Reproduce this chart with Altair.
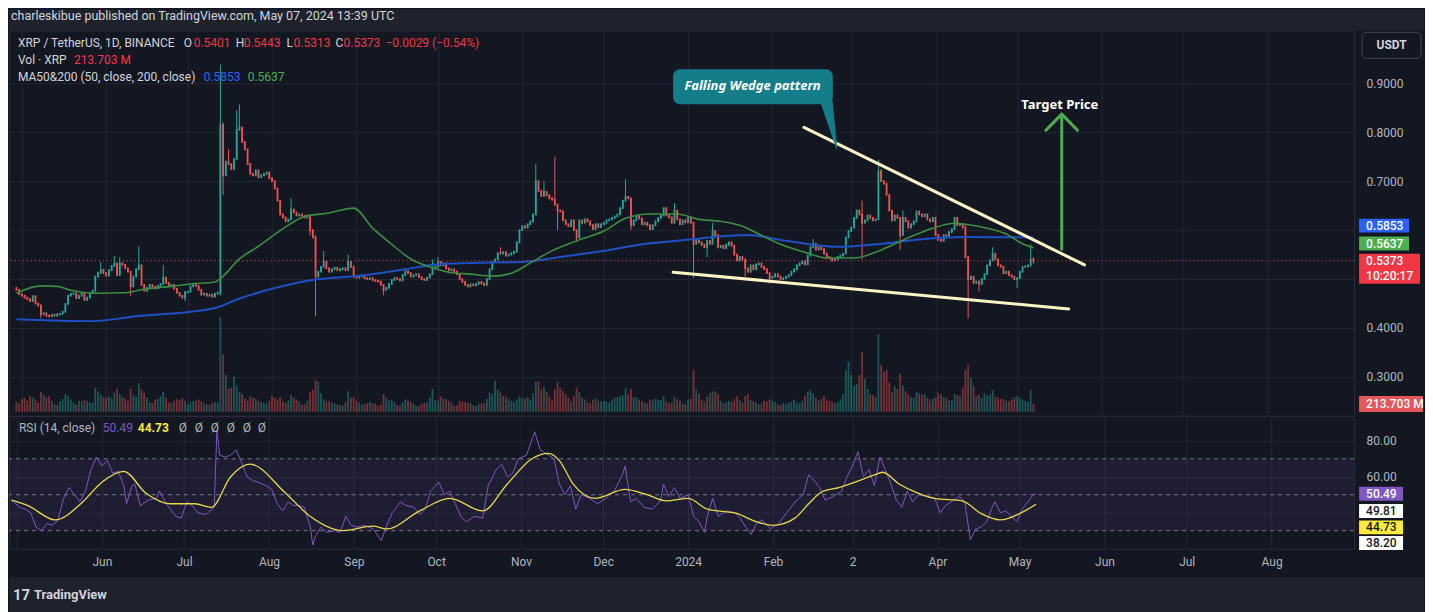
import altair as alt
import pandas as pd

# ---------------- data ----------------
START_DATE = "2023-04-29"
FIRST_OPEN = 0.482

close_2023_04 = [0.478, 0.469]
close_2023_05 = [0.466, 0.462, 0.459, 0.455, 0.465, 0.450, 0.446, 0.428, 0.430, 0.425,
                 0.424, 0.427, 0.425, 0.428, 0.429, 0.433, 0.449, 0.466, 0.470, 0.471,
                 0.461, 0.466, 0.470, 0.457, 0.462, 0.471, 0.476, 0.505, 0.513, 0.519, 0.512]
close_2023_06 = [0.507, 0.518, 0.527, 0.532, 0.508, 0.532, 0.529, 0.522, 0.515, 0.485,
                 0.505, 0.520, 0.528, 0.488, 0.476, 0.482, 0.488, 0.484, 0.481, 0.486,
                 0.490, 0.503, 0.492, 0.486, 0.488, 0.480, 0.472, 0.466, 0.462, 0.473]
close_2023_07 = [0.474, 0.485, 0.488, 0.486, 0.478, 0.468, 0.470, 0.466, 0.468, 0.464,
                 0.470, 0.472, 0.815, 0.712, 0.740, 0.735, 0.725, 0.745, 0.805, 0.810,
                 0.780, 0.765, 0.735, 0.715, 0.712, 0.722, 0.708, 0.712, 0.715, 0.718, 0.706]
close_2023_08 = [0.700, 0.685, 0.660, 0.632, 0.626, 0.618, 0.622, 0.642, 0.636, 0.630,
                 0.632, 0.629, 0.626, 0.630, 0.600, 0.585, 0.505, 0.515, 0.525, 0.535,
                 0.522, 0.515, 0.520, 0.523, 0.518, 0.520, 0.522, 0.518, 0.535, 0.525, 0.505]
close_2023_09 = [0.503, 0.505, 0.507, 0.502, 0.500, 0.502, 0.498, 0.496, 0.495, 0.488,
                 0.478, 0.482, 0.490, 0.498, 0.502, 0.500, 0.497, 0.508, 0.516, 0.512,
                 0.505, 0.508, 0.510, 0.504, 0.500, 0.498, 0.503, 0.510, 0.522, 0.525]
close_2023_10 = [0.535, 0.528, 0.532, 0.522, 0.518, 0.520, 0.515, 0.510, 0.500, 0.494,
                 0.488, 0.485, 0.489, 0.487, 0.490, 0.494, 0.491, 0.488, 0.500, 0.520,
                 0.535, 0.540, 0.553, 0.552, 0.555, 0.548, 0.550, 0.553, 0.556, 0.575, 0.600]
close_2023_11 = [0.608, 0.605, 0.612, 0.618, 0.632, 0.700, 0.680, 0.670, 0.678, 0.671,
                 0.665, 0.662, 0.652, 0.640, 0.638, 0.620, 0.612, 0.608, 0.620, 0.600,
                 0.585, 0.620, 0.615, 0.622, 0.618, 0.610, 0.602, 0.612, 0.606, 0.612]
close_2023_12 = [0.615, 0.620, 0.622, 0.625, 0.628, 0.632, 0.645, 0.660, 0.668, 0.665,
                 0.610, 0.620, 0.628, 0.624, 0.612, 0.615, 0.610, 0.602, 0.610, 0.618,
                 0.625, 0.630, 0.645, 0.630, 0.626, 0.615, 0.640, 0.622, 0.612, 0.620, 0.616]
close_2024_01 = [0.625, 0.615, 0.572, 0.580, 0.575, 0.570, 0.565, 0.578, 0.572, 0.598,
                 0.590, 0.565, 0.568, 0.563, 0.570, 0.575, 0.568, 0.550, 0.538, 0.545,
                 0.540, 0.522, 0.515, 0.528, 0.520, 0.530, 0.532, 0.525, 0.520, 0.512, 0.502]
close_2024_02 = [0.505, 0.510, 0.505, 0.500, 0.502, 0.505, 0.508, 0.515, 0.520, 0.528,
                 0.532, 0.536, 0.530, 0.548, 0.565, 0.572, 0.560, 0.565, 0.561, 0.552,
                 0.545, 0.542, 0.538, 0.540, 0.545, 0.548, 0.552, 0.585, 0.598]
close_2024_03 = [0.605, 0.625, 0.640, 0.632, 0.615, 0.620, 0.630, 0.625, 0.620, 0.622,
                 0.720, 0.700, 0.695, 0.672, 0.640, 0.620, 0.630, 0.625, 0.590, 0.625,
                 0.618, 0.605, 0.612, 0.618, 0.638, 0.632, 0.628, 0.632, 0.622, 0.618, 0.625]
close_2024_04 = [0.590, 0.580, 0.578, 0.590, 0.588, 0.596, 0.602, 0.625, 0.610, 0.612,
                 0.605, 0.545, 0.500, 0.505, 0.492, 0.495, 0.490, 0.500, 0.510, 0.528,
                 0.538, 0.552, 0.540, 0.528, 0.525, 0.512, 0.515, 0.508, 0.505, 0.500]
close_2024_05 = [0.502, 0.515, 0.525, 0.526, 0.528, 0.5401, 0.5373]

# volume, millions of XRP
vol_2023_04 = [270, 220]
vol_2023_05 = [350, 380, 300, 420, 390, 330, 250, 540, 460, 400, 420, 300, 210, 190, 280, 350,
               480, 420, 330, 250, 200, 300, 280, 320, 300, 260, 240, 650, 560, 480, 400]
vol_2023_06 = [380, 420, 360, 520, 620, 480, 400, 360, 300, 630, 450, 410, 780, 600, 520, 380,
               260, 240, 330, 360, 420, 540, 380, 260, 230, 300, 350, 320, 380, 300]
vol_2023_07 = [210, 260, 290, 300, 330, 280, 230, 200, 190, 240, 260, 250, 2560, 1560, 1000, 620,
               650, 950, 700, 540, 480, 360, 300, 420, 380, 350, 300, 260, 240, 220, 300]
vol_2023_08 = [420, 380, 330, 400, 280, 230, 300, 450, 380, 330, 280, 200, 210, 300, 540, 600,
               870, 810, 500, 330, 280, 300, 250, 230, 200, 190, 170, 260, 560, 380, 400]
vol_2023_09 = [300, 260, 200, 210, 240, 260, 230, 220, 160, 190, 480, 380, 300, 320, 260, 180,
               170, 260, 330, 300, 270, 230, 170, 160, 220, 240, 260, 380, 620, 320]
vol_2023_10 = [300, 420, 360, 340, 300, 260, 170, 180, 300, 270, 260, 240, 230, 180, 160, 220,
               230, 240, 350, 520, 480, 840, 600, 520, 430, 400, 350, 300, 270, 330, 420]
vol_2023_11 = [380, 360, 400, 330, 500, 810, 820, 600, 680, 540, 420, 300, 600, 810, 650, 560,
               480, 380, 280, 420, 650, 540, 380, 330, 260, 230, 330, 360, 300, 280]
vol_2023_12 = [300, 270, 260, 330, 380, 400, 420, 450, 640, 480, 620, 400, 380, 330, 300, 250,
               220, 330, 300, 350, 330, 320, 420, 280, 230, 250, 400, 350, 300, 220, 200]
vol_2024_01 = [330, 350, 1130, 600, 480, 330, 280, 420, 500, 560, 540, 480, 300, 230, 260, 300,
               270, 350, 420, 330, 250, 430, 480, 320, 300, 260, 200, 230, 300, 280, 330]
vol_2024_02 = [300, 270, 200, 180, 230, 220, 240, 270, 330, 260, 230, 300, 430, 540, 580, 500,
               380, 300, 350, 420, 330, 300, 280, 230, 260, 330, 480, 1130, 1350]
vol_2024_03 = [1000, 700, 760, 1000, 1620, 900, 620, 480, 450, 400, 2110, 1270, 1080, 1130, 800, 540,
               700, 620, 1030, 720, 560, 470, 400, 380, 540, 500, 460, 480, 380, 300, 350]
vol_2024_04 = [380, 520, 470, 400, 380, 300, 320, 480, 460, 420, 650, 1130, 1270, 920, 700, 430,
               470, 380, 500, 440, 460, 580, 420, 380, 350, 330, 300, 280, 330, 400]
vol_2024_05 = [420, 380, 330, 300, 270, 590, 213.703]

# notable wicks
wick_high = {"2023-05-30": 0.535, "2023-06-04": 0.547, "2023-06-06": 0.545, "2023-06-13": 0.567,
             "2023-06-22": 0.528, "2023-07-13": 0.938, "2023-07-14": 0.820, "2023-07-16": 0.765,
             "2023-07-19": 0.845, "2023-07-20": 0.857, "2023-08-08": 0.665, "2023-08-17": 0.590,
             "2023-08-20": 0.557, "2023-08-29": 0.550, "2023-09-29": 0.540, "2023-10-01": 0.545,
             "2023-10-24": 0.565, "2023-11-06": 0.735, "2023-11-09": 0.700, "2023-11-13": 0.750,
             "2023-12-09": 0.704, "2023-12-27": 0.655, "2024-01-10": 0.615, "2024-02-16": 0.582,
             "2024-03-05": 0.660, "2024-03-11": 0.744, "2024-03-12": 0.725, "2024-03-20": 0.640,
             "2024-04-12": 0.610, "2024-04-22": 0.565, "2024-05-06": 0.571, "2024-05-07": 0.5443}
wick_low = {"2023-05-08": 0.420, "2023-06-10": 0.465, "2023-06-30": 0.455, "2023-07-13": 0.466,
            "2023-07-14": 0.672, "2023-08-15": 0.590, "2023-08-17": 0.424, "2023-09-11": 0.467,
            "2023-11-14": 0.600, "2023-11-21": 0.575, "2023-12-11": 0.600, "2024-01-03": 0.502,
            "2024-01-08": 0.545, "2024-01-22": 0.505, "2024-01-31": 0.490, "2024-03-05": 0.540,
            "2024-03-19": 0.560, "2024-04-13": 0.420, "2024-04-17": 0.475, "2024-05-01": 0.482,
            "2024-05-07": 0.5313}

# moving averages
ma50_pts = [("2023-04-29", 0.471), ("2023-05-08", 0.486), ("2023-05-14", 0.485), ("2023-05-19", 0.477),
            ("2023-05-28", 0.471), ("2023-06-08", 0.472), ("2023-06-15", 0.479), ("2023-06-25", 0.485),
            ("2023-07-02", 0.490), ("2023-07-11", 0.494), ("2023-07-13", 0.501), ("2023-07-20", 0.541),
            ("2023-07-27", 0.567), ("2023-08-03", 0.595), ("2023-08-13", 0.628), ("2023-08-22", 0.635),
            ("2023-08-31", 0.645), ("2023-09-07", 0.604), ("2023-09-14", 0.571), ("2023-09-21", 0.541),
            ("2023-09-29", 0.523), ("2023-10-05", 0.514), ("2023-10-13", 0.510), ("2023-10-21", 0.506),
            ("2023-10-28", 0.512), ("2023-11-04", 0.533), ("2023-11-11", 0.555), ("2023-11-21", 0.578),
            ("2023-12-01", 0.598), ("2023-12-09", 0.624), ("2023-12-18", 0.633), ("2023-12-28", 0.633),
            ("2024-01-05", 0.622), ("2024-01-13", 0.618), ("2024-01-21", 0.608), ("2024-01-27", 0.592),
            ("2024-02-04", 0.571), ("2024-02-14", 0.553), ("2024-02-21", 0.543), ("2024-03-02", 0.543),
            ("2024-03-11", 0.557), ("2024-03-21", 0.582), ("2024-03-31", 0.604), ("2024-04-08", 0.614),
            ("2024-04-12", 0.612), ("2024-04-20", 0.604), ("2024-04-27", 0.592), ("2024-05-03", 0.572),
            ("2024-05-07", 0.5637)]
ma200_pts = [("2023-04-29", 0.418), ("2023-05-27", 0.414), ("2023-06-12", 0.424), ("2023-07-02", 0.433),
             ("2023-07-11", 0.441), ("2023-07-21", 0.462), ("2023-08-01", 0.480), ("2023-08-16", 0.498),
             ("2023-09-01", 0.506), ("2023-09-19", 0.520), ("2023-10-01", 0.530), ("2023-10-13", 0.533),
             ("2023-11-01", 0.535), ("2023-11-15", 0.545), ("2023-11-30", 0.557), ("2023-12-18", 0.573),
             ("2024-01-02", 0.581), ("2024-01-23", 0.590), ("2024-02-04", 0.580), ("2024-02-25", 0.566),
             ("2024-03-10", 0.571), ("2024-03-28", 0.582), ("2024-04-12", 0.586), ("2024-05-07", 0.5853)]

# RSI(14) and its moving average
rsi_dates = ["2023-04-29", "2023-05-02", "2023-05-04", "2023-05-06", "2023-05-08", "2023-05-10", "2023-05-12",
             "2023-05-14", "2023-05-16", "2023-05-18", "2023-05-20", "2023-05-22", "2023-05-24", "2023-05-26",
             "2023-05-28", "2023-05-30", "2023-06-01", "2023-06-03", "2023-06-05", "2023-06-07", "2023-06-09",
             "2023-06-10", "2023-06-12", "2023-06-13", "2023-06-15", "2023-06-18", "2023-06-21", "2023-06-22",
             "2023-06-25", "2023-06-28", "2023-06-30", "2023-07-02", "2023-07-04", "2023-07-06", "2023-07-09",
             "2023-07-12", "2023-07-13", "2023-07-14", "2023-07-16", "2023-07-18", "2023-07-20", "2023-07-22",
             "2023-07-24", "2023-07-26", "2023-07-28", "2023-07-31", "2023-08-02", "2023-08-04", "2023-08-06",
             "2023-08-08", "2023-08-10", "2023-08-12", "2023-08-14", "2023-08-15", "2023-08-16", "2023-08-17",
             "2023-08-18", "2023-08-20", "2023-08-22", "2023-08-25", "2023-08-27", "2023-08-29", "2023-08-31",
             "2023-09-02", "2023-09-05", "2023-09-08", "2023-09-11", "2023-09-13", "2023-09-15", "2023-09-18",
             "2023-09-20", "2023-09-23", "2023-09-25", "2023-09-27", "2023-09-29", "2023-10-02", "2023-10-04",
             "2023-10-06", "2023-10-08", "2023-10-10", "2023-10-12", "2023-10-15", "2023-10-18", "2023-10-20",
             "2023-10-23", "2023-10-25", "2023-10-27", "2023-10-29", "2023-10-31", "2023-11-03", "2023-11-06",
             "2023-11-08", "2023-11-10", "2023-11-13", "2023-11-15", "2023-11-17", "2023-11-19", "2023-11-21",
             "2023-11-23", "2023-11-26", "2023-11-29", "2023-12-02", "2023-12-05", "2023-12-08", "2023-12-09",
             "2023-12-11", "2023-12-13", "2023-12-16", "2023-12-19", "2023-12-22", "2023-12-23", "2023-12-25",
             "2023-12-27", "2023-12-29", "2024-01-01", "2024-01-03", "2024-01-05", "2024-01-07", "2024-01-08",
             "2024-01-10", "2024-01-12", "2024-01-15", "2024-01-18", "2024-01-20", "2024-01-22", "2024-01-24",
             "2024-01-26", "2024-01-28", "2024-01-31", "2024-02-03", "2024-02-06", "2024-02-09", "2024-02-12",
             "2024-02-14", "2024-02-16", "2024-02-18", "2024-02-20", "2024-02-23", "2024-02-26", "2024-02-28",
             "2024-03-01", "2024-03-03", "2024-03-05", "2024-03-07", "2024-03-09", "2024-03-11", "2024-03-13",
             "2024-03-15", "2024-03-17", "2024-03-19", "2024-03-21", "2024-03-23", "2024-03-25", "2024-03-28",
             "2024-03-31", "2024-04-02", "2024-04-04", "2024-04-07", "2024-04-09", "2024-04-11", "2024-04-13",
             "2024-04-15", "2024-04-17", "2024-04-19", "2024-04-21", "2024-04-22", "2024-04-24", "2024-04-26",
             "2024-04-28", "2024-04-30", "2024-05-02", "2024-05-04", "2024-05-06", "2024-05-07"]
rsi_vals = [47, 43, 42, 40, 32, 30, 34, 33, 36, 48, 54, 50, 46, 52, 64, 71, 66, 69, 62, 63,
            55, 45, 55, 56, 44, 47, 48, 52, 44, 38, 37, 46, 44, 40, 39, 43, 86, 72, 71, 72,
            75, 68, 60, 58, 57, 55, 53, 45, 41, 46, 44, 44, 43, 37, 33, 22, 27, 32, 29, 30,
            29, 38, 33, 32, 33, 31, 24.5, 33, 40, 46, 44, 43, 39, 42, 52, 57, 50, 52, 45, 38,
            35, 38, 37, 55, 64, 67, 60, 62, 70, 72, 85, 75, 73, 70, 56, 50, 55, 42, 50, 48,
            45, 48, 52, 61, 66, 46, 48, 43, 42, 47, 56, 49, 54, 48, 50, 38, 35, 29, 38, 48,
            38, 41, 40, 37, 32, 28, 34, 36, 31, 34, 40, 46, 50, 61, 58, 54, 47, 49, 52, 60,
            66, 74, 60, 64, 55, 71, 64, 56, 47, 43, 52, 46, 50, 49, 48, 40, 44, 47, 49, 46,
            25, 31, 32, 35, 43, 46, 40, 41, 38, 35, 42, 46, 50, 50.49]
rsi_ma_pts = [("2023-04-29", 47), ("2023-05-05", 44), ("2023-05-15", 36), ("2023-05-25", 46), ("2023-06-01", 57),
              ("2023-06-09", 63), ("2023-06-17", 51), ("2023-06-26", 45), ("2023-07-05", 45), ("2023-07-11", 43),
              ("2023-07-18", 60), ("2023-07-25", 67), ("2023-08-07", 51), ("2023-08-16", 38), ("2023-08-28", 30),
              ("2023-09-08", 32.5), ("2023-09-13", 31), ("2023-09-25", 41), ("2023-10-06", 48), ("2023-10-18", 41),
              ("2023-10-27", 56), ("2023-11-05", 70), ("2023-11-11", 73), ("2023-11-15", 69), ("2023-11-20", 56),
              ("2023-11-28", 48), ("2023-12-09", 53), ("2023-12-17", 50), ("2023-12-24", 46.6), ("2024-01-01", 48),
              ("2024-01-08", 42), ("2024-01-19", 39.5), ("2024-01-25", 35.5), ("2024-02-01", 33), ("2024-02-09", 37),
              ("2024-02-14", 45), ("2024-02-19", 51.8), ("2024-02-25", 54), ("2024-03-02", 57), ("2024-03-09", 61),
              ("2024-03-12", 62.5), ("2024-03-18", 56), ("2024-03-24", 51.5), ("2024-03-31", 48), ("2024-04-10", 46.6),
              ("2024-04-17", 39.5), ("2024-04-24", 36), ("2024-05-01", 39.5), ("2024-05-07", 44.73)]
RSI_LEVELS = [70, 50, 30]

# drawings (time, price anchors)
wedge_upper = [("2024-02-12 15:00", 0.810), ("2024-05-25 19:00", 0.529)]
wedge_lower = [("2023-12-26 12:00", 0.514), ("2024-05-20 00:00", 0.439)]
arrow_shaft = [("2024-05-17 10:00", 0.561), ("2024-05-17 10:00", 0.837)]
arrow_head = [("2024-05-11 14:00", 0.804), ("2024-05-17 10:00", 0.837), ("2024-05-23 05:00", 0.804)]
callout_box = ("2023-12-26 12:00", "2024-02-23 05:00", 0.857, 0.929)
callout_tail = [("2024-02-21 00:00", 0.861, 12), ("2024-02-24 16:00", 0.767, 1)]
callout_text = ("2024-01-24 17:00", 0.895, "Falling Wedge pattern")
target_text = ("2024-05-16 17:00", 0.856, "Target Price")

LAST_PRICE = 0.5373
LAST_VOL = 213.703
MA200_LAST, MA50_LAST = 0.5853, 0.5637
RSI_LAST, RSI_MA_LAST, EXTRA1, EXTRA2 = 50.49, 44.73, 49.81, 38.20
PRICE_TICKS = [0.3, 0.4, 0.5, 0.6, 0.7, 0.8, 0.9]

# ---------------- styling ----------------
BG = "#131722"
PANEL2 = "#1e222d"
GRID = "#232733"
TXT = "#d1d4dc"
AXC = "#b2b5be"
UP = "#26a69a"
DN = "#ef5350"
FONT = "Roboto"
W, HP, HR = 1347, 386, 133

# ---------------- frames ----------------
closes = (close_2023_04 + close_2023_05 + close_2023_06 + close_2023_07 + close_2023_08 + close_2023_09 +
          close_2023_10 + close_2023_11 + close_2023_12 + close_2024_01 + close_2024_02 + close_2024_03 +
          close_2024_04 + close_2024_05)
vols = (vol_2023_04 + vol_2023_05 + vol_2023_06 + vol_2023_07 + vol_2023_08 + vol_2023_09 + vol_2023_10 +
        vol_2023_11 + vol_2023_12 + vol_2024_01 + vol_2024_02 + vol_2024_03 + vol_2024_04 + vol_2024_05)
dates = pd.date_range(START_DATE, periods=len(closes), freq="D")
opens = [FIRST_OPEN] + closes[:-1]
keys = dates.strftime("%Y-%m-%d")
highs = [max(o, c, wick_high.get(k, 0)) for o, c, k in zip(opens, closes, keys)]
lows = [min(o, c, wick_low.get(k, 9)) for o, c, k in zip(opens, closes, keys)]
candles = pd.DataFrame({"date": dates, "open": opens, "close": closes, "high": highs, "low": lows,
                        "vol": vols})
candles["dir"] = ["up" if c >= o else "down" for o, c in zip(opens, closes)]


def pts(lst, cols=("date", "v")):
    df = pd.DataFrame(lst, columns=list(cols))
    df["date"] = pd.to_datetime(df["date"])
    return df


ma50_df = pts(ma50_pts)
ma200_df = pts(ma200_pts)
rsi_df = pd.DataFrame({"date": pd.to_datetime(rsi_dates), "v": rsi_vals})
rsima_df = pts(rsi_ma_pts)

wedge_df = pd.concat([pts(wedge_upper).assign(line="upper"), pts(wedge_lower).assign(line="lower")])
arrow_df = pd.concat([pts(arrow_shaft).assign(part="shaft"), pts(arrow_head).assign(part="head")])
arrow_df["o"] = list(range(len(arrow_df)))
tail_df = pts(callout_tail, ("date", "v", "w"))
tail_df["o"] = [0, 1]
box_df = pd.DataFrame({"d1": [pd.to_datetime(callout_box[0])], "d2": [pd.to_datetime(callout_box[1])],
                       "p1": [callout_box[2]], "p2": [callout_box[3]]})
ctext_df = pd.DataFrame({"date": [pd.to_datetime(callout_text[0])], "v": [callout_text[1]], "t": [callout_text[2]]})
ttext_df = pd.DataFrame({"date": [pd.to_datetime(target_text[0])], "v": [target_text[1]], "t": [target_text[2]]})

# ---------------- scales / axes ----------------
xs = alt.Scale(domain=[alt.DateTime(year=2023, month=4, date=28, hours=2, minutes=24),
                       alt.DateTime(year=2024, month=8, date=31, hours=2, minutes=24)])
month_ticks = [alt.DateTime(year=y, month=m, date=1) for y, m in
               [(2023, m) for m in range(5, 13)] + [(2024, m) for m in range(1, 9)]]
x_axis_top = alt.Axis(values=month_ticks, labels=False, ticks=False, domain=False, grid=True,
                      gridColor=GRID, title=None)
x_axis_bot = alt.Axis(values=month_ticks, ticks=False, domain=False, grid=True, gridColor=GRID, title=None,
                      labelPadding=8, labelColor=AXC, labelFontSize=12, labelFont=FONT, labelBound=True,
                      labelExpr="month(datum.value) == 0 ? timeFormat(datum.value, '%Y') : "
                                "(month(datum.value) == 2 ? '2' : timeFormat(datum.value, '%b'))")
ps = alt.Scale(domain=[0.22041, 1.00816], zero=False, nice=False)
vs = alt.Scale(domain=[-108, 10314], zero=False, nice=False)
rs = alt.Scale(domain=[20, 93.89], zero=False, nice=False)
p_axis = alt.Axis(orient="right", values=PRICE_TICKS, grid=True, gridColor=GRID, ticks=False, tickSize=0,
                  domain=False, labelPadding=12, labelAlign="left", labelColor=AXC, labelFontSize=12,
                  labelFont=FONT, title=None,
                  labelExpr="(datum.value > 0.45 && datum.value < 0.65) ? '' : format(datum.value, '.4f')")
r_axis = alt.Axis(orient="right", values=[20, 40, 60, 80], grid=True, gridColor=GRID, ticks=False, tickSize=0,
                  domain=False, labelPadding=12, labelAlign="left", labelColor=AXC, labelFontSize=12,
                  labelFont=FONT, title=None,
                  labelExpr="datum.value >= 60 ? format(datum.value, '.2f') : ''")
dir_color = alt.Color("dir:N", scale=alt.Scale(domain=["up", "down"], range=[UP, DN]), legend=None)


def XT(f="date", ax=x_axis_top):
    return alt.X(f"{f}:T", scale=xs, axis=ax)


def YP(f):
    return alt.Y(f"{f}:Q", scale=ps, axis=p_axis)


def YR(f):
    return alt.Y(f"{f}:Q", scale=rs, axis=r_axis)


one = pd.DataFrame({"a": [0]})


def label(text, x, y, color, size=12, weight="normal", align="left", style="normal", font=FONT):
    return alt.Chart(pd.DataFrame({"t": [text]})).mark_text(
        align=align, baseline="middle", color=color, fontSize=size, fontWeight=weight,
        fontStyle=style, font=font).encode(x=alt.value(x), y=alt.value(y), text="t:N")


def band(x1, x2, y1, y2, fill, stroke=None, radius=0):
    kw = dict(color=fill, cornerRadius=radius)
    if stroke:
        kw.update(stroke=stroke, strokeWidth=1)
    return alt.Chart(one).mark_rect(**kw).encode(x=alt.value(x1), x2=alt.value(x2),
                                                  y=alt.value(y1), y2=alt.value(y2))


def box_path(w, h):
    return f"M{-w / 20},{-h / 20}H{w / 20}V{h / 20}H{-w / 20}Z"


def value_tag(val, text, yenc, fill, tcolor, w, h, cx, off=0, box_off=None, extra=None):
    df = pd.DataFrame({"v": [val], "t": [text]})
    bo = off if box_off is None else box_off
    layers = [
        alt.Chart(df).mark_point(shape=box_path(w, h), size=400, filled=True, opacity=1, color=fill,
                                 strokeWidth=0, yOffset=bo).encode(x=alt.value(cx), y=yenc("v")),
        alt.Chart(df).mark_text(align="left", baseline="middle", color=tcolor, fontSize=12, font=FONT,
                                fontWeight=500, dy=off).encode(x=alt.value(1359), y=yenc("v"), text="t:N"),
    ]
    if extra:
        df2 = pd.DataFrame({"v": [val], "t": [extra]})
        layers.append(alt.Chart(df2).mark_text(align="left", baseline="middle", color=tcolor, fontSize=12,
                                               font=FONT, fontWeight=500, dy=off + 15)
                      .encode(x=alt.value(1359), y=yenc("v"), text="t:N"))
    return layers


# ---------------- price pane ----------------
def YV(f):
    return alt.Y(f"{f}:Q", scale=vs, axis=None)


vol_group = alt.layer(
    alt.Chart(candles).mark_bar(size=1.8, opacity=0.45).encode(x=XT(), y=YV("vol"), color=dir_color),
    *value_tag(LAST_VOL, "213.703 M", YV, "#e4575b", "#ffffff", 64, 16, 1384)
)

wick = alt.Chart(candles).mark_rule(strokeWidth=1).encode(x=XT(), y=YP("low"), y2="high:Q", color=dir_color)
body = alt.Chart(candles).mark_rule(strokeWidth=1.8, strokeCap="square").encode(
    x=XT(), y=YP("open"), y2="close:Q", color=dir_color)
ma200_line = alt.Chart(ma200_df).mark_line(color="#1e4fc4", strokeWidth=2, interpolate="monotone").encode(
    x=XT(), y=YP("v"))
ma50_line = alt.Chart(ma50_df).mark_line(color="#3c8d40", strokeWidth=1.6, interpolate="monotone").encode(
    x=XT(), y=YP("v"))
last_line = alt.Chart(pd.DataFrame({"v": [LAST_PRICE]})).mark_rule(
    color=DN, strokeDash=[1, 3], strokeWidth=1).encode(y=YP("v"))
wedge = alt.Chart(wedge_df).mark_line(color="#fbf3c4", strokeWidth=3, strokeCap="round").encode(
    x=XT(), y=YP("v"), detail="line:N")
arrow = alt.Chart(arrow_df).mark_line(color="#4caf50", strokeWidth=3, strokeCap="round",
                                      strokeJoin="round").encode(
    x=XT(), y=YP("v"), detail="part:N", order="o:Q")
callout = alt.Chart(box_df).mark_rect(color="#137d89", cornerRadius=7).encode(
    x=XT("d1"), x2="d2:T", y=YP("p1"), y2="p2:Q")
tail = alt.Chart(tail_df).mark_trail(color="#137d89").encode(
    x=XT(), y=YP("v"), size=alt.Size("w:Q", scale=None, legend=None), order="o:Q")
callout_lbl = alt.Chart(ctext_df).mark_text(color="#ffffff", fontSize=13, fontStyle="italic", fontWeight="bold",
                                            font="Noto Sans").encode(x=XT(), y=YP("v"), text="t:N")
target_lbl = alt.Chart(ttext_df).mark_text(color="#ffffff", fontSize=13, fontWeight="bold",
                                           font="Noto Sans").encode(x=XT(), y=YP("v"), text="t:N")

RED = "#f23645"
legend_layers = [
    band(0, 1417, -21, 0, PANEL2),
    label("charleskibue published on TradingView.com, May 07, 2024 13:39 UTC", 2, -14, TXT, size=12.5),
    label("XRP / TetherUS, 1D, BINANCE", 9, 13, TXT),
    label("O", 175, 13, TXT), label("0.5401", 185, 13, RED),
    label("H", 227, 13, TXT), label("0.5443", 235, 13, RED),
    label("L", 278, 13, TXT), label("0.5313", 285, 13, RED),
    label("C", 327, 13, TXT), label("0.5373", 335, 13, RED),
    label("\u22120.0029 (\u22120.54%)", 377, 13, RED),
    label("Vol \u00b7 XRP", 9, 30, TXT), label("213.703 M", 65, 30, RED),
    label("MA50&200 (50, close, 200, close)", 9, 47, TXT),
    label("0.5853", 195, 47, "#2962ff"), label("0.5637", 239, 47, "#4caf50"),
    band(1355, 1414, 2, 28, BG, stroke="#434651", radius=4),
    label("USDT", 1384.5, 15, TXT, align="center", weight="bold"),
]
price_tags = (value_tag(MA200_LAST, "0.5853", YP, "#2962ff", "#ffffff", 50, 14, 1377, off=-11.7) +
              value_tag(MA50_LAST, "0.5637", YP, "#4caf50", "#ffffff", 50, 14, 1377, off=-4.3) +
              value_tag(LAST_PRICE, "0.5373", YP, RED, "#ffffff", 61, 30, 1382.5, off=0, box_off=8,
                        extra="10:20:17"))

price_group = alt.layer(wick, body, ma200_line, ma50_line, last_line, wedge, arrow, callout, tail,
                        callout_lbl, target_lbl, *legend_layers, *price_tags)
price_pane = alt.layer(vol_group, price_group).resolve_scale(y="independent").properties(width=W, height=HP)

# ---------------- RSI pane ----------------
rsi_band = alt.Chart(pd.DataFrame({"lo": [30], "hi": [70]})).mark_rect(color="#7e57c2", opacity=0.1).encode(
    y=YR("lo"), y2="hi:Q")
rsi_lv = alt.Chart(pd.DataFrame({"v": RSI_LEVELS})).mark_rule(color="#787b86", strokeDash=[4, 4],
                                                              strokeWidth=1).encode(y=YR("v"))
rsi_line = alt.Chart(rsi_df).mark_line(color="#7e57c2", strokeWidth=1).encode(x=XT(ax=x_axis_bot), y=YR("v"))
rsima_line = alt.Chart(rsima_df).mark_line(color="#e9d94a", strokeWidth=1.3, interpolate="monotone").encode(
    x=XT(ax=x_axis_bot), y=YR("v"))
rsi_texts = [
    label("RSI (14, close)", 10, 12, AXC),
    label("50.49", 94, 12, "#7e57c2"),
    label("44.73", 129, 12, "#ffeb3b", weight="bold"),
] + [label("\u00d8", xz, 12, AXC) for xz in (170, 186, 202, 218, 234, 249)] + [
    band(0, 1417, 162, 197, PANEL2),
    label("17", 4, 179, TXT, size=15, weight="bold"),
    label("TradingView", 25, 179, TXT, size=13, weight="bold"),
]
rsi_tags = (value_tag(RSI_LAST, "50.49", YR, "#7e57c2", "#ffffff", 44, 14, 1374) +
            value_tag(EXTRA1, "49.81", YR, "#ffffff", BG, 44, 14, 1374, off=15.9) +
            value_tag(RSI_MA_LAST, "44.73", YR, "#ffeb3b", BG, 44, 14, 1374, off=23.2) +
            value_tag(EXTRA2, "38.20", YR, "#ffffff", BG, 44, 14, 1374, off=27))
rsi_pane = alt.layer(rsi_band, rsi_lv, rsi_line, rsima_line, *rsi_texts, *rsi_tags).properties(
    width=W, height=HR)

chart = alt.vconcat(price_pane, rsi_pane, spacing=0, bounds="flush").properties(padding=0).configure(
    background=BG, font=FONT).configure_view(stroke="#2a2e39", strokeWidth=1)

chart.save("out.html", embed_options={"renderer": "svg", "actions": False})
